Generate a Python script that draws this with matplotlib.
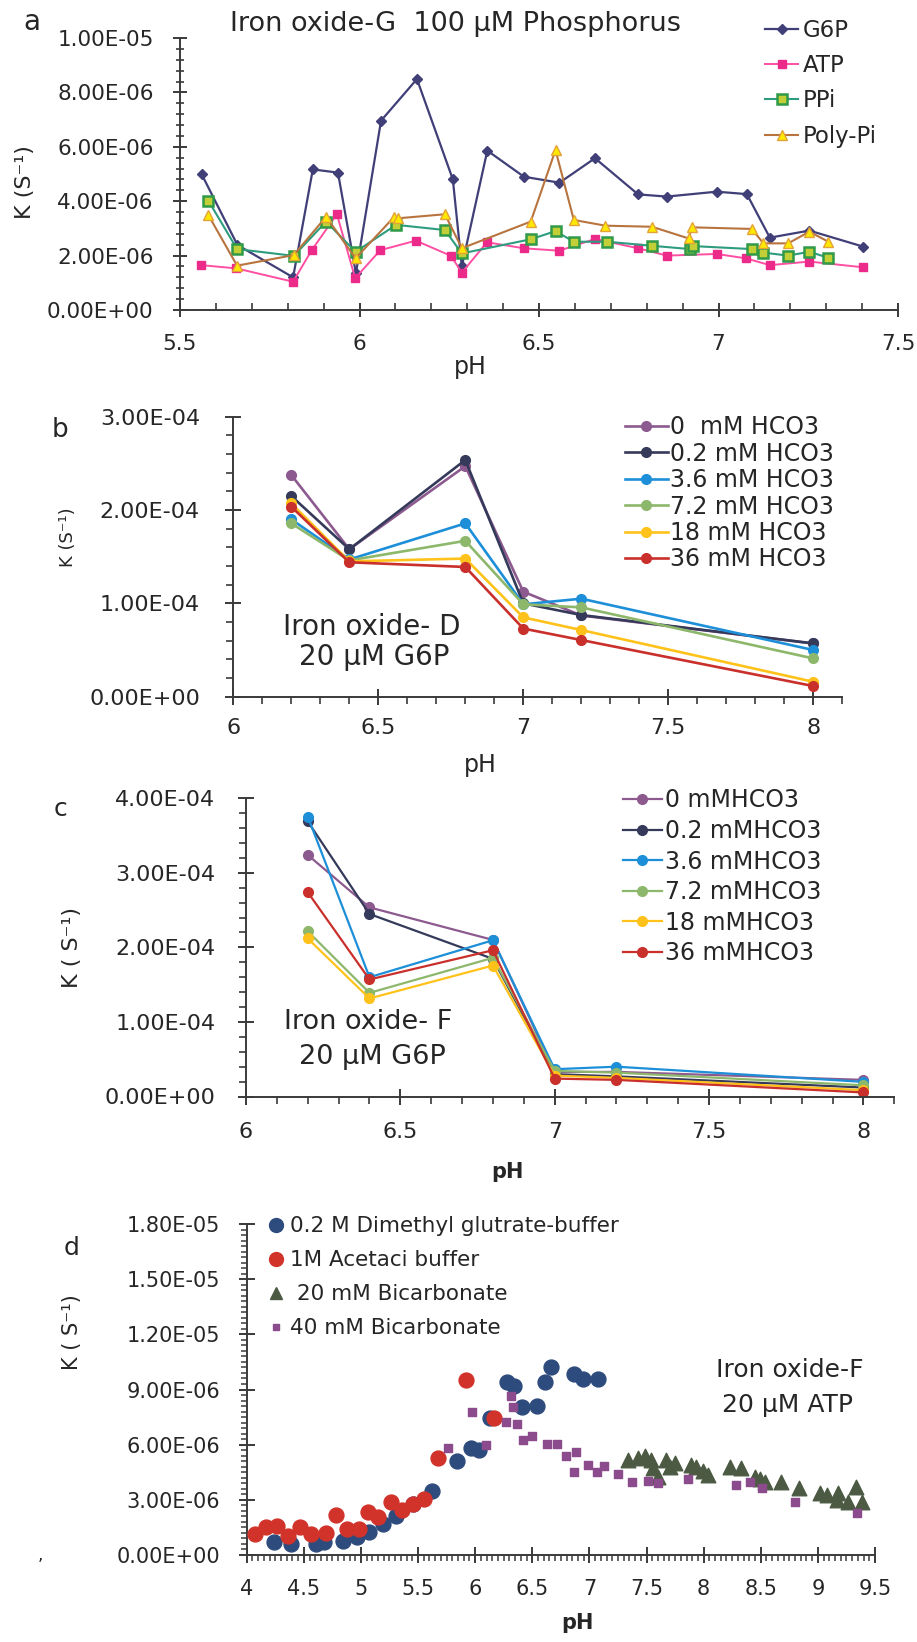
import numpy as np
import matplotlib
matplotlib.use("Agg")
import matplotlib.pyplot as plt
from matplotlib.ticker import FixedLocator, MultipleLocator, FuncFormatter
from matplotlib.lines import Line2D

plt.rcParams['font.family'] = ['DejaVu Sans']

# ---------------- data: panel a (K in 1e-6 s^-1) ----------------
g6p_ph = [5.56, 5.66, 5.815, 5.87, 5.94, 5.99, 6.06, 6.16, 6.26, 6.285, 6.356, 6.458,
          6.557, 6.656, 6.776, 6.856, 6.995, 7.079, 7.143, 7.253, 7.403]
g6p_k = [5.0, 2.39, 1.2, 5.17, 5.05, 1.35, 6.96, 8.49, 4.8, 1.6, 5.86, 4.9,
         4.68, 5.58, 4.25, 4.17, 4.35, 4.26, 2.66, 2.92, 2.33]
atp_ph = [5.558, 5.657, 5.815, 5.867, 5.937, 5.988, 6.058, 6.157, 6.255, 6.285, 6.355, 6.457,
          6.556, 6.656, 6.776, 6.856, 6.995, 7.076, 7.143, 7.253, 7.403]
atp_k = [1.65, 1.53, 1.04, 2.2, 3.52, 1.17, 2.2, 2.55, 1.99, 1.37, 2.49, 2.27,
         2.18, 2.61, 2.27, 2.0, 2.06, 1.9, 1.65, 1.78, 1.57]
ppi_ph = [5.579, 5.659, 5.817, 5.907, 5.989, 6.102, 6.238, 6.285, 6.477, 6.546, 6.597, 6.69,
          6.815, 6.921, 6.928, 7.093, 7.125, 7.194, 7.253, 7.306]
ppi_k = [4.02, 2.24, 1.99, 3.25, 2.14, 3.13, 2.94, 2.08, 2.6, 2.9, 2.51, 2.51,
         2.36, 2.24, 2.35, 2.24, 2.11, 2.0, 2.14, 1.92]
poly_ph = [5.579, 5.659, 5.817, 5.907, 5.989, 6.097, 6.106, 6.238, 6.285, 6.477, 6.546, 6.597,
           6.685, 6.815, 6.917, 6.926, 7.093, 7.125, 7.194, 7.253, 7.306]
poly_k = [3.49, 1.63, 2.02, 3.43, 1.9, 3.43, 3.37, 3.52, 2.27, 3.25, 5.88, 3.31,
          3.1, 3.06, 2.63, 3.04, 2.98, 2.45, 2.45, 2.88, 2.51]
a_labels = ["G6P", "ATP", "PPi", "Poly-Pi"]

# ---------------- data: panel b (K in 1e-4 s^-1) ----------------
ph_bc = [6.2, 6.4, 6.8, 7.0, 7.2, 8.0]
b_labels = ["0  mM HCO3", "0.2 mM HCO3", "3.6 mM HCO3", "7.2 mM HCO3", "18 mM HCO3", "36 mM HCO3"]
b_0 = [2.375, 1.58, 2.47, 1.125, 0.87, 0.57]
b_02 = [2.15, 1.58, 2.536, 1.0, 0.875, 0.571]
b_36 = [1.90, 1.47, 1.857, 0.99, 1.05, 0.50]
b_72 = [1.857, 1.46, 1.67, 0.99, 0.957, 0.41]
b_18 = [2.07, 1.45, 1.48, 0.85, 0.714, 0.16]
b_360 = [2.036, 1.44, 1.39, 0.73, 0.607, 0.114]

# ---------------- data: panel c (K in 1e-4 s^-1) ----------------
c_labels = ["0 mMHCO3", "0.2 mMHCO3", "3.6 mMHCO3", "7.2 mMHCO3", "18 mMHCO3", "36 mMHCO3"]
c_0 = [3.24, 2.537, 2.10, 0.33, 0.33, 0.223]
c_02 = [3.69, 2.448, 1.846, 0.30, 0.27, 0.12]
c_36 = [3.755, 1.60, 2.096, 0.366, 0.40, 0.196]
c_72 = [2.216, 1.39, 1.86, 0.343, 0.32, 0.15]
c_18 = [2.12, 1.315, 1.757, 0.28, 0.25, 0.085]
c_360 = [2.74, 1.57, 1.962, 0.24, 0.223, 0.054]

# ---------------- data: panel d (K in 1e-6 s^-1) ----------------
d_labels = ["0.2 M Dimethyl glutrate-buffer", "1M Acetaci buffer", " 20 mM Bicarbonate", "40 mM Bicarbonate"]
dmg_ph = [4.24, 4.385, 4.61, 4.675, 4.84, 4.967, 5.07, 5.195, 5.31, 5.46, 5.625, 5.845,
          5.962, 6.03, 6.129, 6.278, 6.342, 6.41, 6.54, 6.614, 6.664, 6.863, 6.947, 7.073]
dmg_k = [0.73, 0.6, 0.58, 0.69, 0.78, 0.96, 1.23, 1.67, 2.14, 2.76, 3.5, 5.1,
         5.84, 5.71, 7.43, 9.39, 9.21, 8.03, 8.12, 9.43, 10.24, 9.82, 9.57, 9.57]
ace_ph = [4.073, 4.169, 4.268, 4.364, 4.466, 4.56, 4.694, 4.78, 4.874, 4.985, 5.063, 5.15,
          5.267, 5.363, 5.456, 5.55, 5.675, 5.924, 6.167]
ace_k = [1.14, 1.54, 1.58, 1.05, 1.5, 1.14, 1.18, 2.18, 1.41, 1.41, 2.36, 2.08,
         2.9, 2.45, 2.77, 3.03, 5.26, 9.52, 7.47]
bic20_ph = [7.336, 7.424, 7.49, 7.54, 7.556, 7.6, 7.67, 7.705, 7.745, 7.89, 7.935, 7.994,
            8.04, 8.228, 8.33, 8.447, 8.49, 8.535, 8.673, 8.836, 9.017, 9.076, 9.178, 9.164,
            9.266, 9.333, 9.39]
bic20_k = [5.17, 5.26, 5.38, 5.17, 4.71, 4.26, 5.17, 4.77, 4.98, 4.89, 4.8, 4.59,
           4.35, 4.77, 4.71, 4.26, 4.11, 3.99, 3.99, 3.63, 3.35, 3.26, 3.35, 2.99,
           2.9, 3.72, 2.9]
bic40_ph = [5.76, 5.97, 6.094, 6.313, 6.327, 6.269, 6.363, 6.415, 6.497, 6.626, 6.713, 6.795,
            6.883, 6.863, 6.985, 7.064, 7.13, 7.25, 7.374, 7.512, 7.6, 7.863, 8.28, 8.404,
            8.515, 8.798, 9.34]
bic40_k = [5.84, 7.79, 5.98, 8.66, 8.07, 7.25, 7.12, 6.25, 6.47, 6.04, 6.04, 5.4,
           5.62, 4.5, 4.89, 4.5, 4.84, 4.4, 3.99, 4.02, 3.93, 4.11, 3.81, 3.95,
           3.63, 2.9, 2.27]

# ---------------- figure ----------------
W, H = 917, 1642
fig = plt.figure(figsize=(W / 100, H / 100), dpi=100)
AX = "#3a3a3a"
TXT = "#262626"


def add_ax(x0, ytop, x1, ybot):
    ax = fig.add_axes([x0 / W, 1 - ybot / H, (x1 - x0) / W, (ybot - ytop) / H])
    for s in ("top", "right"):
        ax.spines[s].set_visible(False)
    for s in ("left", "bottom"):
        ax.spines[s].set_color(AX)
        ax.spines[s].set_linewidth(1.4)
    ax.patch.set_alpha(0)
    return ax


def ftext(x, y, s, **kw):
    kw.setdefault("color", TXT)
    kw.setdefault("ha", "center")
    kw.setdefault("va", "center")
    fig.text(x / W, 1 - y / H, s, **kw)


def fit_legend(ax, handles, labels, x_left, first_row, last_row, fontsize, **kw):
    """Place a frameless legend so that its rows sit at the given pixel rows."""
    em = fontsize * 100 / 72.0
    n = len(labels)
    want_pitch = (last_row - first_row) / (n - 1)
    ls, top = 0.3, first_row - 0.5 * em
    leg = None
    for _ in range(4):
        leg = ax.legend(handles, labels, loc="upper left",
                        bbox_to_anchor=(x_left / W, 1 - top / H), bbox_transform=fig.transFigure,
                        frameon=False, fontsize=fontsize, labelspacing=ls, borderpad=0,
                        borderaxespad=0, labelcolor=TXT, **kw)
        fig.canvas.draw()
        cs = []
        for t in leg.get_texts():
            bb = t.get_window_extent()
            cs.append(H - (bb.y0 + bb.y1) / 2 - 0.1 * em)  # visual cap centre, px from top
        pitch = (cs[-1] - cs[0]) / (n - 1)
        ls = max(ls + (want_pitch - pitch) / em, 0.0)
        top += first_row - cs[0]
    return leg


sci = FuncFormatter(lambda v, _: f"{v:.2E}")
plain = FuncFormatter(lambda v, _: f"{v:g}")

# ================= panel a =================
ax = add_ax(180, 38, 898, 310)
ax.plot(g6p_ph, np.array(g6p_k) * 1e-6, color="#403f78", lw=1.6, marker="D", ms=5,
        mfc="#403f78", mec="#403f78", label=a_labels[0])
ax.plot(atp_ph, np.array(atp_k) * 1e-6, color="#ff4fa3", lw=1.4, marker="s", ms=6,
        mfc="#ec2a8a", mec="#ec2a8a", label=a_labels[1])
ax.plot(ppi_ph, np.array(ppi_k) * 1e-6, color="#2e9c7e", lw=1.5, marker="s", ms=6.5,
        mfc="#c3cf36", mec="#2f9a48", mew=1.8, label=a_labels[2])
ax.plot(poly_ph, np.array(poly_k) * 1e-6, color="#b8743e", lw=1.5, marker="^", ms=7,
        mfc="#ffe800", mec="#e3a23a", label=a_labels[3])
ax.set_xlim(5.5, 7.5)
ax.set_ylim(0, 1e-5)
ax.xaxis.set_major_locator(FixedLocator([5.5, 6, 6.5, 7, 7.5]))
ax.xaxis.set_minor_locator(MultipleLocator(0.1))
ax.yaxis.set_major_locator(FixedLocator(np.arange(6) * 2e-6))
ax.yaxis.set_minor_locator(MultipleLocator(4e-7))
ax.xaxis.set_major_formatter(plain)
ax.yaxis.set_major_formatter(sci)
ax.tick_params(which="major", direction="inout", length=10, width=1.4, color=AX,
               labelsize=15.5, labelcolor=TXT)
ax.tick_params(axis="y", which="major", pad=14)
ax.tick_params(axis="x", which="major", pad=12)
ax.tick_params(axis="y", which="minor", direction="inout", length=6, width=1.2, color=AX)
ax.tick_params(axis="x", which="minor", direction="in", length=5, width=1.2, color=AX)
ha, la = ax.get_legend_handles_labels()
fit_legend(ax, ha, la, 765, 28, 134, 16.5, handlelength=1.45, handletextpad=0.2)
ftext(456, 24, "Iron oxide-G  100 \u03bcM Phosphorus", fontsize=19.5)
ftext(32, 22, "a", fontsize=20)
ftext(25, 182, "K (S\u207b\u00b9)", fontsize=16, rotation=90)
ftext(470, 367, "pH", fontsize=17)

# ================= panel b =================
col6 = ["#8c5a8e", "#353a5a", "#1d8fd8", "#8db86c", "#ffc21a", "#c9302c"]
ax = add_ax(233.3, 416.7, 842.3, 696.7)
for ys, lab, c in zip([b_0, b_02, b_36, b_72, b_18, b_360], b_labels, col6):
    ax.plot(ph_bc, np.array(ys) * 1e-4, color=c, lw=1.9, marker="o", ms=7, mfc=c, mec=c, label=lab)
ax.set_xlim(6, 8.1)
ax.set_ylim(0, 3e-4)
ax.xaxis.set_major_locator(FixedLocator([6, 6.5, 7, 7.5, 8]))
ax.xaxis.set_minor_locator(MultipleLocator(0.1))
ax.yaxis.set_major_locator(FixedLocator(np.arange(4) * 1e-4))
ax.yaxis.set_minor_locator(MultipleLocator(2e-5))
ax.xaxis.set_major_formatter(plain)
ax.yaxis.set_major_formatter(sci)
ax.tick_params(which="major", direction="inout", length=12, width=1.4, color=AX,
               labelsize=16, labelcolor=TXT)
ax.tick_params(axis="y", which="major", pad=18)
ax.tick_params(axis="x", which="major", pad=9.5)
ax.tick_params(which="minor", direction="out", length=5, width=1.2, color=AX)
ha, la = ax.get_legend_handles_labels()
fit_legend(ax, ha, la, 625, 425, 557, 17, handlelength=1.8, handletextpad=0.12)
ftext(372, 627, "Iron oxide- D", fontsize=20)
ftext(374, 657, "20 \u03bcM G6P", fontsize=20)
ftext(60, 430, "b", fontsize=19)
ftext(68, 537, "K (S\u207b\u00b9)", fontsize=13, rotation=90)
ftext(480, 765, "pH", fontsize=17)

# ================= panel c =================
ax = add_ax(246, 798.3, 894.3, 1096.5)
for ys, lab, c in zip([c_0, c_02, c_36, c_72, c_18, c_360], c_labels, col6):
    ax.plot(ph_bc, np.array(ys) * 1e-4, color=c, lw=1.6, marker="o", ms=7, mfc=c, mec=c, label=lab)
ax.set_xlim(6, 8.1)
ax.set_ylim(0, 4e-4)
ax.xaxis.set_major_locator(FixedLocator([6, 6.5, 7, 7.5, 8]))
ax.xaxis.set_minor_locator(MultipleLocator(0.1))
ax.yaxis.set_major_locator(FixedLocator(np.arange(5) * 1e-4))
ax.yaxis.set_minor_locator(MultipleLocator(2e-5))
ax.xaxis.set_major_formatter(plain)
ax.yaxis.set_major_formatter(sci)
ax.tick_params(which="major", direction="inout", length=12, width=1.4, color=AX,
               labelsize=16, labelcolor=TXT)
ax.tick_params(axis="y", which="major", pad=16)
ax.tick_params(axis="x", which="major", pad=12)
ax.tick_params(which="minor", direction="out", length=5, width=1.2, color=AX)
ha, la = ax.get_legend_handles_labels()
fit_legend(ax, ha, la, 623, 798, 951, 17, handlelength=1.65, handletextpad=0.12)
ftext(368, 1022, "Iron oxide- F", fontsize=19.5)
ftext(372, 1057, "20 \u03bcM G6P", fontsize=19.5)
ftext(60, 809, "c", fontsize=18)
ftext(72, 947, "K ( S\u207b\u00b9)", fontsize=16, rotation=90)
ftext(507, 1172, "pH", fontsize=15, fontweight="bold")

# ================= panel d =================
ax = add_ax(246.7, 1224, 875, 1555)
ax.scatter(dmg_ph, np.array(dmg_k) * 1e-6, s=115, marker="o", color="#2d4b7c", label=d_labels[0], zorder=3)
ax.scatter(ace_ph, np.array(ace_k) * 1e-6, s=115, marker="o", color="#d1332b", label=d_labels[1], zorder=4)
ax.scatter(bic20_ph, np.array(bic20_k) * 1e-6, s=110, marker="^", color="#4c5a44", label=d_labels[2], zorder=3)
ax.scatter(bic40_ph, np.array(bic40_k) * 1e-6, s=32, marker="s", color="#8b4b8d", label=d_labels[3], zorder=5)
ax.set_xlim(4, 9.5)
ax.set_ylim(0, 1.8e-5)
ax.xaxis.set_major_locator(FixedLocator(np.arange(4, 9.51, 0.5)))
ax.xaxis.set_minor_locator(MultipleLocator(0.05))
ax.yaxis.set_major_locator(FixedLocator(np.arange(7) * 3e-6))
ax.yaxis.set_minor_locator(MultipleLocator(3e-7))
ax.xaxis.set_major_formatter(plain)
ax.yaxis.set_major_formatter(sci)
ax.tick_params(which="major", direction="inout", length=11, width=1.4, color=AX,
               labelsize=15, labelcolor=TXT)
ax.tick_params(axis="y", which="major", pad=13.5)
ax.tick_params(axis="x", which="major", pad=11.5)
ax.tick_params(which="minor", direction="out", length=4, width=1.1, color=AX)
hd = [Line2D([], [], ls="none", marker="o", ms=10, color="#2d4b7c"),
      Line2D([], [], ls="none", marker="o", ms=10, color="#d1332b"),
      Line2D([], [], ls="none", marker="^", ms=9, color="#4c5a44"),
      Line2D([], [], ls="none", marker="s", ms=5, color="#8b4b8d")]
fit_legend(ax, hd, d_labels, 265, 1224, 1326, 15.5, handlelength=1.0, handletextpad=0.17)
ftext(790, 1370, "Iron oxide-F", fontsize=18)
ftext(787, 1405, "20 \u03bcM ATP", fontsize=18)
ftext(72, 1248, "d", fontsize=18)
ftext(72, 1332, "K ( S\u207b\u00b9)", fontsize=15, rotation=90)
ftext(577, 1623, "pH", fontsize=15, fontweight="bold")
ftext(40, 1555, ",", fontsize=12)

fig.savefig("out.png", dpi=100)
